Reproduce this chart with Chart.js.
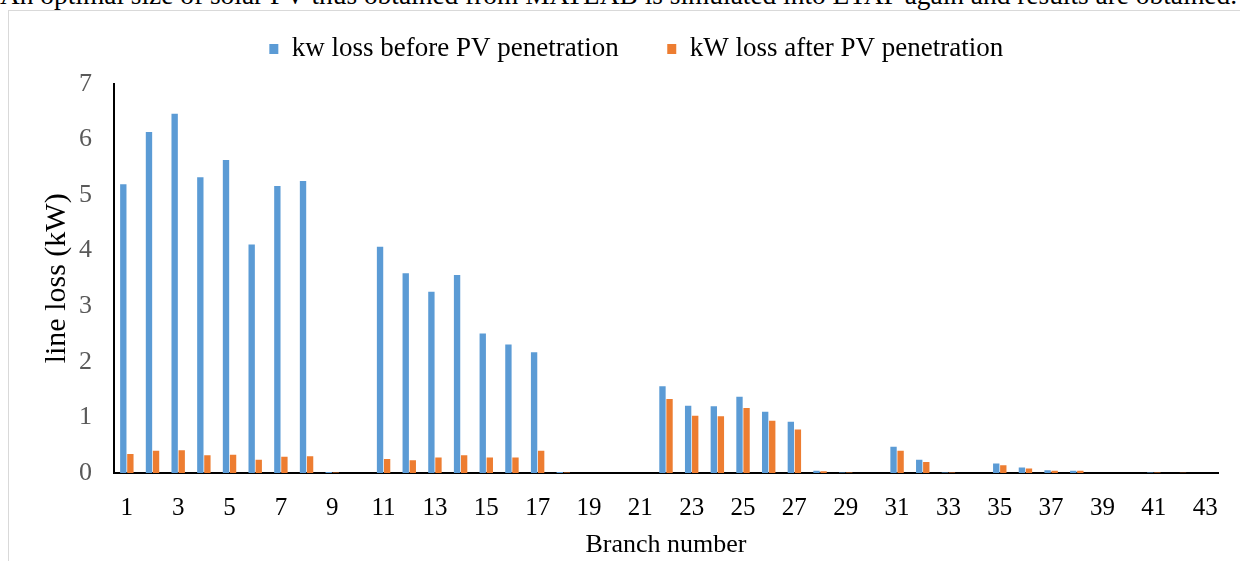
<!DOCTYPE html>
<html>
<head>
<meta charset="utf-8">
<script src="https://cdn.jsdelivr.net/npm/chart.js@4.4.1/dist/chart.umd.min.js"></script>
<style>
  html, body { margin: 0; padding: 0; background: #fff; width: 1240px; height: 561px; overflow: hidden; }
  #frame { position: absolute; left: 8px; top: 10px; width: 1260px; height: 600px; border: 1px solid #d9d9d9; box-sizing: border-box; }
  #topText { position: absolute; left: 0; top: -20px; white-space: nowrap; font-family: "Liberation Serif", serif; font-size: 27.4px; line-height: 30px; color: #000; }
  #wrap { position: absolute; left: 0; top: -20px; width: 1240px; height: 581px; }
</style>
</head>
<body>
<div id="topText">An optimal size of solar PV thus obtained from MATLAB is simulated into ETAP again and results are obtained.</div>
<div id="frame"></div>
<div id="wrap"><canvas id="c" width="1240" height="581"></canvas></div>
<script>
const branches = [];
for (let i = 1; i <= 43; i++) branches.push(String(i));

const lossBefore = [5.19, 6.13, 6.46, 5.32, 5.63, 4.11, 5.16, 5.25, 0.02, 0,
                    4.07, 3.59, 3.26, 3.56, 2.51, 2.31, 2.17, 0.02, 0, 0,
                    0, 1.56, 1.21, 1.20, 1.37, 1.10, 0.92, 0.04, 0.01, 0,
                    0.47, 0.24, 0.01, 0, 0.17, 0.10, 0.05, 0.04, 0, 0,
                    0.01, 0, 0];
const lossAfter = [0.34, 0.40, 0.41, 0.32, 0.33, 0.24, 0.29, 0.30, 0.01, 0,
                   0.25, 0.23, 0.28, 0.32, 0.28, 0.28, 0.40, 0.01, 0, 0,
                   0, 1.33, 1.03, 1.02, 1.17, 0.94, 0.78, 0.03, 0.01, 0,
                   0.40, 0.20, 0.01, 0, 0.14, 0.08, 0.04, 0.04, 0, 0,
                   0.01, 0.005, 0];
const yTicks = [0, 1, 2, 3, 4, 5, 6, 7];

const serif = "'Liberation Serif', 'Times New Roman', serif";

new Chart(document.getElementById('c'), {
  type: 'bar',
  data: {
    labels: branches,
    datasets: [
      { label: 'kw loss before PV penetration', data: lossBefore, backgroundColor: '#5B9BD5', borderWidth: 0,
        categoryPercentage: 0.55, barPercentage: 0.9 },
      { label: 'kW loss after PV penetration', data: lossAfter, backgroundColor: '#ED7D31', borderWidth: 0,
        categoryPercentage: 0.55, barPercentage: 0.9 }
    ]
  },
  options: {
    responsive: false,
    animation: false,
    devicePixelRatio: 1,
    layout: { padding: { left: 54.5, right: 22, top: 7, bottom: 0 } },
    plugins: {
      legend: {
        position: 'top',
        labels: {
          boxWidth: 9, boxHeight: 10, padding: 48.5, color: '#000',
          font: { family: serif, size: 27 }
        }
      },
      subtitle: {
        display: true, text: '', position: 'top', weight: 500,
        font: { size: 1 }, padding: { top: 10, bottom: 0 }
      },
      tooltip: { enabled: false }
    },
    scales: {
      x: {
        grid: { display: false, drawTicks: false },
        border: { display: true, color: '#000', width: 2 },
        ticks: {
          autoSkip: false, maxRotation: 0, padding: 20, color: '#000',
          font: { family: serif, size: 25 },
          callback: function (v, i) { return i % 2 === 0 ? branches[i] : ''; }
        },
        title: { display: true, text: 'Branch number', color: '#000', font: { family: serif, size: 26 }, padding: { top: 0, bottom: 0 } },
        afterFit: function (s) { s.height = 88; }
      },
      y: {
        min: 0, max: 7,
        grid: { display: false, drawTicks: false },
        border: { display: true, color: '#000', width: 2 },
        afterBuildTicks: function (s) { s.ticks = yTicks.map(v => ({ value: v })); },
        ticks: { padding: 22, color: '#595959', font: { family: serif, size: 26 } },
        title: { display: true, text: 'line loss (kW)', color: '#000', font: { family: serif, size: 30 }, padding: { top: -15, bottom: 0 } },
        afterFit: function (s) { s.width = 59.5; }
      }
    }
  }
});
</script>
</body>
</html>
